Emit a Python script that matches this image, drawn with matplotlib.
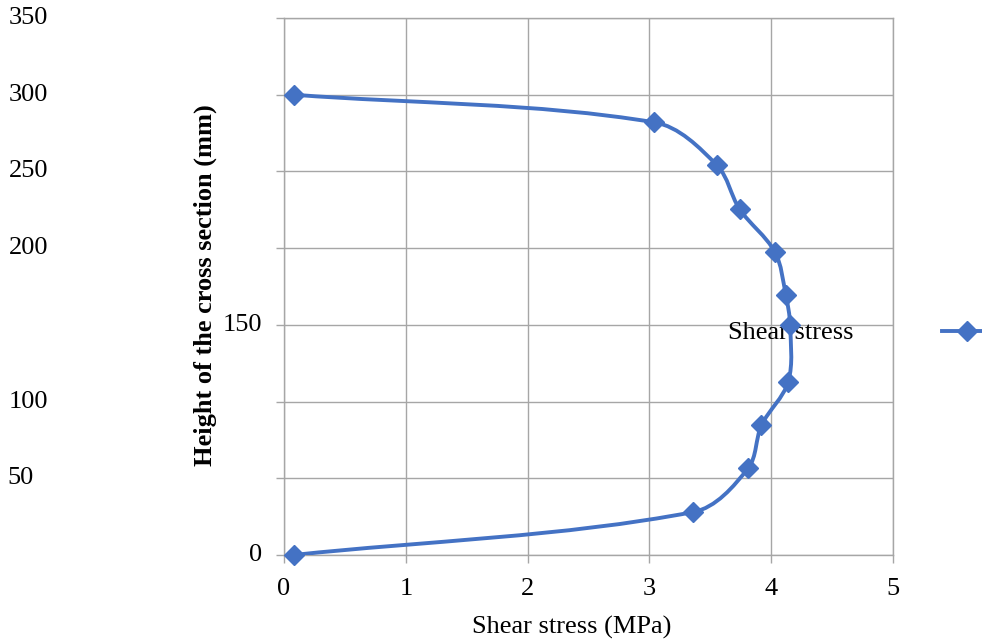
import numpy as np
import matplotlib
matplotlib.use("Agg")
import matplotlib.pyplot as plt
from matplotlib.path import Path
from matplotlib.patches import PathPatch
from matplotlib.lines import Line2D
import matplotlib.transforms as mtransforms

# data
shear_mpa = [0.08, 3.36, 3.81, 3.92, 4.14, 4.155, 4.12, 4.03, 3.74, 3.555, 3.04, 0.08]
height_mm = [0, 28, 56.5, 84.5, 113, 150, 169.5, 197.5, 225.5, 254, 282, 300]
x_ticks = [0, 1, 2, 3, 4, 5]
y_ticks = [0, 50, 100, 150, 200, 250, 300, 350]
# the y tick labels sit at odd spots in the original (right edge, figure px)
y_label_right_px = [262, 34, 48, 262, 48, 48, 48, 48]

BLUE = "#4472C4"
GRID = "#A6A6A6"
FONT = "Liberation Serif"
FS = 19
LW = 2.8
MS = 10

plt.rcParams["font.family"] = [FONT, "DejaVu Serif"]

W, H = 982, 641
AX_L, AX_R, AX_T, AX_B = 284, 893, 18, 555
XMAX, YMAX = 5, 350
fig = plt.figure(figsize=(W / 100, H / 100), dpi=100)
ax = fig.add_axes([AX_L / W, 1 - AX_B / H, (AX_R - AX_L) / W, (AX_B - AX_T) / H])


def smooth_path(xs, ys, t=0.33):
    # smoothed line: bezier arms along neighbour direction, length tied to
    # the segment's own length (worked out in screen units)
    sx = (AX_R - AX_L) / XMAX
    sy = (AX_B - AX_T) / YMAX
    pts = np.column_stack([np.asarray(xs) * sx, np.asarray(ys) * sy]).astype(float)
    n = len(pts)

    def unit(v):
        d = np.hypot(*v)
        return v / d if d > 0 else v

    verts = [pts[0]]
    codes = [Path.MOVETO]
    for i in range(n - 1):
        p0 = pts[max(i - 1, 0)]
        p1 = pts[i]
        p2 = pts[i + 1]
        p3 = pts[min(i + 2, n - 1)]
        seg = np.hypot(*(p2 - p1))
        c1 = p1 + unit(p2 - p0) * seg * t
        c2 = p2 - unit(p3 - p1) * seg * t
        verts += [c1, c2, p2]
        codes += [Path.CURVE4] * 3
    verts = np.array(verts) / [sx, sy]
    return Path(verts, codes)


ax.add_patch(PathPatch(smooth_path(shear_mpa, height_mm), facecolor="none",
                       edgecolor=BLUE, lw=LW, zorder=3, capstyle="round"))
ax.plot(shear_mpa, height_mm, linestyle="none", marker="D", markersize=MS,
        color=BLUE, zorder=4, clip_on=False)

ax.set_xlim(0, XMAX)
ax.set_ylim(0, YMAX)
ax.set_xticks(x_ticks)
ax.set_yticks(y_ticks)
ax.set_xticklabels([str(v) for v in x_ticks], fontsize=FS)
ax.set_yticklabels([])
ax.grid(True, color=GRID, lw=1)
ax.set_axisbelow(True)
for s in ax.spines.values():
    s.set_color(GRID)
    s.set_linewidth(1)
ax.tick_params(axis="both", direction="out", length=5.5, color=GRID, width=1)
ax.tick_params(axis="x", pad=11)

# y tick labels placed by hand
trans = mtransforms.blended_transform_factory(fig.transFigure, ax.transData)
for v, xr in zip(y_ticks, y_label_right_px):
    ax.text(xr / W, v, str(v), transform=trans, ha="right", va="center",
            fontsize=FS, clip_on=False)

fig.text(205 / W, 1 - 285 / H, "Height of the cross section (mm)", rotation=90,
         ha="center", va="center", fontsize=FS, fontweight="bold")
fig.text(572 / W, 1 - 627 / H, "Shear stress (MPa)", ha="center", va="center",
         fontsize=FS)

# legend, drawn by hand: label sits under the curve, line+marker at far right
ax.text(854 / W, 1 - 333 / H, "Shear stress", transform=fig.transFigure,
        ha="right", va="center", fontsize=FS, zorder=2, clip_on=False)
fig.add_artist(Line2D([942 / W, 992 / W], [1 - 331 / H, 1 - 331 / H],
                      transform=fig.transFigure, color=BLUE, lw=LW,
                      clip_on=False))
fig.add_artist(Line2D([967 / W], [1 - 331 / H], transform=fig.transFigure,
                      color=BLUE, marker="D", markersize=MS, linestyle="none"))

fig.savefig("out.png", dpi=100)
